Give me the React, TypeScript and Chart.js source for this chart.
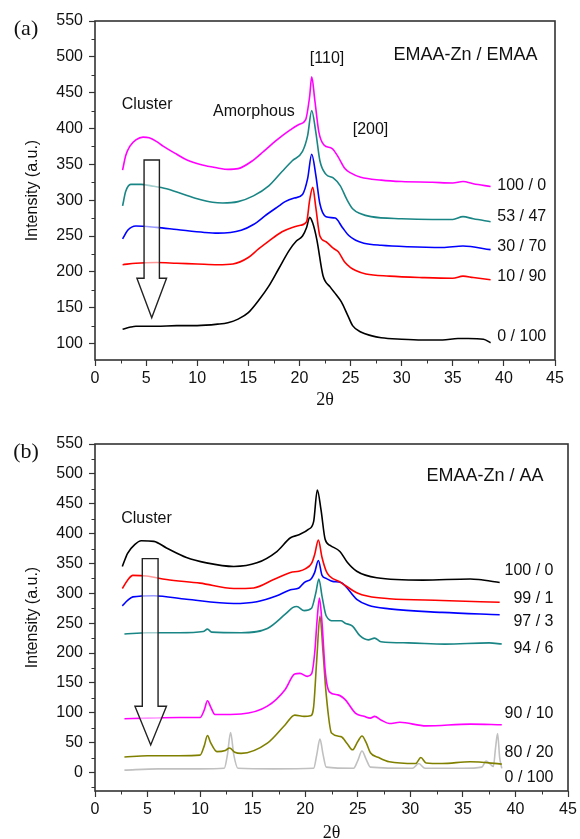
import React, { useEffect, useRef } from 'react';
import { Chart, registerables } from 'chart.js';

Chart.register(...registerables);

// ---------- shared ticks ----------
const X_TICKS = [0, 5, 10, 15, 20, 25, 30, 35, 40, 45];
const X_MINOR = [2.5, 7.5, 12.5, 17.5, 22.5, 27.5, 32.5, 37.5, 42.5];
const Y_TICKS_A = [100, 150, 200, 250, 300, 350, 400, 450, 500, 550];
const Y_MINOR_A = [125, 175, 225, 275, 325, 375, 425, 475, 525];
const Y_TICKS_B = [0, 50, 100, 150, 200, 250, 300, 350, 400, 450, 500, 550];
const Y_MINOR_B = [-25, 25, 75, 125, 175, 225, 275, 325, 375, 425, 475, 525];

// ---------- panel (a): EMAA-Zn / EMAA ----------
const A_LABELS = ['100 / 0', '53 / 47', '30 / 70', '10 / 90', '0 / 100'];
const A_COLORS = ['#ff00ff', '#1a8585', '#0000ff', '#ff0000', '#000000'];

const A_X_100_0 = [2.7, 3.0, 3.4, 4, 4.7, 5.3, 6, 6.7, 8, 9, 10.5, 12, 13, 14, 15.5, 16.5, 17.8, 19.1, 20.0, 20.6, 21.0, 21.2, 21.5, 21.9, 22.4, 23.2, 23.8, 24.4, 25, 26, 28, 30, 33, 35, 36, 37, 38.7];
const A_Y_100_0 = [342, 362, 375, 384, 388, 387, 382, 375, 364, 356, 349, 345, 343, 344, 356, 368, 384, 398, 406, 412, 445, 472, 440, 395, 377, 372, 360, 345, 338, 332, 328, 326, 325, 324, 326, 323, 319];

const A_X_53_47 = [2.7, 3.0, 3.5, 4.5, 5.5, 7, 8.5, 10, 11.5, 12.5, 14, 15.5, 17, 18.3, 19.3, 20.3, 20.8, 21.2, 21.6, 22.0, 22.6, 23.3, 24.0, 24.6, 25.2, 26, 27, 30, 33, 35, 36, 37, 38.7];
const A_Y_53_47 = [292, 312, 322, 322, 320, 316, 309, 302, 297, 296, 298, 306, 320, 340, 355, 368, 390, 425, 395, 355, 336, 331, 320, 302, 288, 281, 277, 274, 273, 273, 277, 274, 270];

const A_X_30_70 = [2.7, 3.2, 4, 6, 8, 10.7, 12, 14.3, 15.5, 16.8, 18, 18.6, 19.5, 20.3, 20.8, 21.2, 21.6, 22.0, 22.6, 23.5, 24.2, 24.8, 25.5, 26.3, 28, 30.6, 34, 36, 38.7];
const A_Y_30_70 = [246, 258, 264, 262, 259, 255, 254, 258, 266, 280, 292, 298, 303, 308, 330, 364, 335, 295, 277, 275, 262, 251, 244, 240, 237, 235, 234, 236, 231];

const A_X_10_90 = [2.7, 4, 6, 8, 10, 12, 13.5, 15, 16, 17, 18.3, 19.3, 20.1, 20.7, 21.0, 21.3, 21.6, 22.0, 22.6, 23.3, 23.8, 24.4, 25, 25.5, 26.5, 28.8, 32, 35, 36, 37, 38.7];
const A_Y_10_90 = [210, 212, 213, 212, 211, 210, 211, 220, 232, 243, 256, 262, 265, 270, 300, 318, 290, 250, 242, 233, 228, 214, 206, 202, 197, 194, 192, 191, 194, 192, 189];

const A_X_0_100 = [2.7, 3.5, 4, 5, 6, 8, 10, 12, 13, 14, 15, 16, 17, 18, 19, 19.7, 20.3, 20.7, 21.0, 21.3, 21.7, 22.3, 23.0, 23.6, 24.1, 24.7, 25.2, 26, 27, 28, 30, 32, 34, 35.5, 36.5, 38, 38.7];
const A_Y_0_100 = [120, 123, 124, 124, 124, 125, 125, 127, 129, 134, 143, 160, 180, 205, 230, 243, 250, 262, 276, 268, 245, 195, 179, 168, 158, 140, 125, 116, 111, 108, 106, 105, 105, 107, 107, 106, 101];

// ---------- panel (b): EMAA-Zn / AA ----------
const B_LABELS = ['100 / 0', '99 / 1', '97 / 3', '94 / 6', '90 / 10', '80 / 20', '0 / 100'];
const B_COLORS = ['#000000', '#ff0000', '#0000ff', '#1a8585', '#ff00ff', '#808000', '#c0c0c0'];

const B_X_100_0 = [2.6, 3.1, 3.8, 4.4, 5.6, 6.8, 8.7, 10.6, 13.2, 15.4, 17.3, 18.6, 19.4, 20.3, 20.8, 21.15, 21.5, 21.9, 22.4, 23.3, 24.0, 24.9, 26.8, 31.2, 35.7, 36.5, 38.5];
const B_Y_100_0 = [345, 367, 382, 388, 387, 376, 360, 351, 345, 351, 370, 393, 398, 407, 420, 473, 440, 390, 380, 370, 352, 337, 326, 322, 324, 323, 318];

const B_X_99_1 = [2.6, 3.1, 3.6, 4.9, 6.8, 10, 13.2, 15.1, 17, 18.6, 19.4, 20.0, 20.6, 20.9, 21.25, 21.6, 22.0, 22.3, 23.4, 24.9, 26, 28, 33, 38.5];
const B_Y_99_1 = [308, 322, 330, 329, 323, 317, 308, 309, 323, 335, 337, 341, 350, 365, 389, 360, 337, 329, 318, 301, 295, 291, 288, 285];

const B_X_97_3 = [2.6, 3.1, 3.6, 5.6, 8.7, 13.2, 15.4, 17.3, 18.6, 19.4, 19.9, 20.6, 20.9, 21.25, 21.6, 22.0, 22.6, 23.4, 24.9, 26, 28, 33, 38.5];
const B_Y_97_3 = [279, 288, 294, 296, 290, 283, 286, 296, 306, 309, 318, 325, 335, 355, 330, 325, 320, 318, 290, 280, 274, 268, 264];

const B_X_94_6 = [2.8, 5, 8, 10.3, 10.7, 11.1, 13.9, 16.4, 18.1, 18.8, 19.2, 19.9, 20.6, 21.0, 21.3, 21.6, 22.0, 22.7, 23.4, 23.8, 24.5, 25.2, 26.0, 26.6, 27.2, 29.8, 33.3, 37.5, 38.7];
const B_Y_94_6 = [232, 234, 234, 236, 240, 235, 234, 241, 265, 276, 278, 271, 275, 300, 324, 295, 262, 254, 254, 250, 245, 229, 222, 225, 219, 217, 215, 217, 215];

const B_X_90_10 = [2.8, 5, 8, 10.0, 10.4, 10.7, 11.0, 11.4, 13.9, 16.4, 18.1, 19.0, 19.5, 20.2, 20.6, 20.9, 21.15, 21.35, 21.6, 21.9, 22.3, 23.1, 23.8, 24.8, 25.6, 26.2, 26.6, 27.2, 28, 29, 31.5, 35.7, 38.7];
const B_Y_90_10 = [90, 91, 92, 92, 105, 120, 110, 97, 98, 111, 139, 165, 166, 161, 165, 200, 260, 292, 250, 170, 135, 130, 122, 99, 94, 91, 94, 88, 82, 84, 78, 81, 80];

const B_X_80_20 = [2.8, 5, 8, 10.0, 10.4, 10.7, 11.0, 11.6, 12.4, 12.8, 13.3, 13.9, 16.4, 18.1, 19.0, 19.9, 20.5, 20.8, 21.1, 21.4, 21.7, 22.0, 22.5, 23.4, 24.0, 24.5, 25.0, 25.4, 25.8, 26.2, 27, 28, 30.5, 31.0, 31.5, 33, 35.7, 38.7];
const B_Y_80_20 = [26, 28, 28, 29, 45, 62, 50, 35, 37, 41, 34, 32, 49, 80, 96, 94, 95, 110, 190, 262, 200, 130, 66, 60, 48, 38, 52, 61, 50, 33, 25, 18, 15, 25, 16, 15, 18, 14];

const B_X_0_100 = [2.8, 6, 10, 12.3, 12.6, 12.9, 13.2, 13.6, 17, 20.8, 21.1, 21.4, 21.7, 22.0, 24.6, 25.0, 25.4, 25.8, 26.2, 30.2, 30.8, 31.4, 35, 36.8, 37.2, 37.6, 37.9, 38.1, 38.3, 38.5, 38.7];
const B_Y_0_100 = [4, 6, 6, 7, 30, 67, 30, 7, 6, 7, 30, 56, 30, 9, 7, 20, 36, 22, 9, 7, 15, 7, 7, 9, 19, 14, 10, 40, 65, 25, 7];

// ---------- styling ----------
const SANS = '"Liberation Sans", Arial, sans-serif';
const SERIF = '"Liberation Serif", "Times New Roman", serif';
const AXIS = '#333333';
const TEXT = '#111111';

type Txt = { text: string; x: number; y: number; size: number; family?: string; align?: CanvasTextAlign };
type Arrow = { shaftL: number; shaftR: number; top: number; headY: number; headL: number; headR: number; tipX: number; tipY: number };

const decorPlugin = {
  id: 'decor',
  afterDraw(chart: any, _args: any, opts: any) {
    const { ctx, chartArea: a, scales } = chart;
    const xs = scales.x;
    const ys = scales.y;
    ctx.save();
    // minor ticks
    ctx.strokeStyle = AXIS;
    ctx.lineWidth = 1;
    (opts.minorX || []).forEach((v: number) => {
      const px = Math.round(xs.getPixelForValue(v)) + 0.5;
      ctx.beginPath();
      ctx.moveTo(px, a.bottom);
      ctx.lineTo(px, a.bottom + 3.5);
      ctx.stroke();
    });
    (opts.minorY || []).forEach((v: number) => {
      const py = Math.round(ys.getPixelForValue(v)) + 0.5;
      if (py > a.bottom) return;
      ctx.beginPath();
      ctx.moveTo(a.left - 3.5, py);
      ctx.lineTo(a.left, py);
      ctx.stroke();
    });
    // frame
    ctx.lineWidth = 1.6;
    ctx.strokeRect(a.left, a.top, a.right - a.left, a.bottom - a.top);
    // arrow
    const ar: Arrow | undefined = opts.arrow;
    if (ar) {
      const X = (v: number) => xs.getPixelForValue(v);
      const Y = (v: number) => ys.getPixelForValue(v);
      ctx.beginPath();
      ctx.moveTo(X(ar.shaftL), Y(ar.top));
      ctx.lineTo(X(ar.shaftR), Y(ar.top));
      ctx.lineTo(X(ar.shaftR), Y(ar.headY));
      ctx.lineTo(X(ar.headR), Y(ar.headY));
      ctx.lineTo(X(ar.tipX), Y(ar.tipY));
      ctx.lineTo(X(ar.headL), Y(ar.headY));
      ctx.lineTo(X(ar.shaftL), Y(ar.headY));
      ctx.closePath();
      ctx.fillStyle = 'rgba(255,255,255,0.6)';
      ctx.fill();
      ctx.strokeStyle = '#222';
      ctx.lineWidth = 1.4;
      ctx.stroke();
    }
    // texts
    ctx.fillStyle = TEXT;
    ctx.textBaseline = 'middle';
    (opts.texts || []).forEach((t: Txt) => {
      ctx.font = `${t.size}px ${t.family || SANS}`;
      ctx.textAlign = t.align || 'center';
      ctx.fillText(t.text, xs.getPixelForValue(t.x), ys.getPixelForValue(t.y));
    });
    ctx.restore();
  },
};

function makeDatasets(labels: string[], colors: string[], xsList: number[][], ysList: number[][]) {
  return labels.map((label, i) => ({
    label,
    data: xsList[i].map((x, j) => ({ x, y: ysList[i][j] })),
    borderColor: colors[i],
    backgroundColor: colors[i],
    borderWidth: 1.6,
    pointRadius: 0,
    fill: false,
    cubicInterpolationMode: 'monotone',
  }));
}

type PanelCfg = {
  width: number;
  height: number;
  top: number;
  padTop: number;
  padRight: number;
  xHeight: number;
  yMin: number;
  yTicks: number[];
  yMinor: number[];
  titlePad: number;
  titleLH: number;
  datasets: any[];
  texts: Txt[];
  arrow: Arrow;
};

function Panel({ cfg }: { cfg: PanelCfg }) {
  const ref = useRef<HTMLCanvasElement | null>(null);
  useEffect(() => {
    if (!ref.current) return;
    const chart = new Chart(ref.current, {
      type: 'line',
      data: { datasets: cfg.datasets },
      plugins: [decorPlugin as any],
      options: {
        animation: false,
        responsive: false,
        maintainAspectRatio: false,
        devicePixelRatio: 1,
        layout: { padding: { left: 0, top: cfg.padTop, right: cfg.padRight, bottom: 0 } },
        plugins: {
          legend: { display: false },
          tooltip: { enabled: false },
          decor: { minorX: X_MINOR, minorY: cfg.yMinor, texts: cfg.texts, arrow: cfg.arrow },
        } as any,
        scales: {
          x: {
            type: 'linear',
            min: 0,
            max: 45,
            afterBuildTicks: (s: any) => {
              s.ticks = X_TICKS.map((v) => ({ value: v }));
            },
            afterFit: (s: any) => {
              s.height = cfg.xHeight;
            },
            grid: { display: true, drawOnChartArea: false, drawTicks: true, tickLength: 6, color: AXIS, tickWidth: 1.2 },
            border: { display: false },
            ticks: { autoSkip: false, maxRotation: 0, padding: 3, color: TEXT, font: { family: SANS, size: 16 } },
            title: {
              display: true,
              text: '2θ',
              color: TEXT,
              font: { family: SERIF, size: 18, lineHeight: cfg.titleLH },
              padding: { top: 0, bottom: cfg.titlePad },
            },
          },
          y: {
            type: 'linear',
            min: cfg.yMin,
            max: 550,
            afterBuildTicks: (s: any) => {
              s.ticks = cfg.yTicks.map((v) => ({ value: v }));
            },
            afterFit: (s: any) => {
              s.width = 95;
            },
            grid: { display: true, drawOnChartArea: false, drawTicks: true, tickLength: 6, color: AXIS, tickWidth: 1.2 },
            border: { display: false },
            ticks: { autoSkip: false, padding: 6, color: TEXT, font: { family: SANS, size: 16 } },
            title: {
              display: true,
              text: 'Intensity (a.u.)',
              color: TEXT,
              font: { family: SANS, size: 16, lineHeight: 1.2 },
              padding: { top: 23, bottom: 0 },
            },
          },
        },
      } as any,
    });
    return () => chart.destroy();
  }, [cfg]);
  return (
    <canvas
      ref={ref}
      width={cfg.width}
      height={cfg.height}
      style={{ position: 'absolute', left: 0, top: cfg.top, width: cfg.width, height: cfg.height }}
    />
  );
}

const panelA: PanelCfg = {
  width: 580,
  height: 420,
  top: 0,
  padTop: 21,
  padRight: 25,
  xHeight: 60,
  yMin: 77,
  yTicks: Y_TICKS_A,
  yMinor: Y_MINOR_A,
  titlePad: 9,
  titleLH: 1.2,
  datasets: makeDatasets(
    A_LABELS,
    A_COLORS,
    [A_X_100_0, A_X_53_47, A_X_30_70, A_X_10_90, A_X_0_100],
    [A_Y_100_0, A_Y_53_47, A_Y_30_70, A_Y_10_90, A_Y_0_100]
  ),
  texts: [
    { text: '(a)', x: -6.75, y: 538, size: 22, family: SERIF },
    { text: 'Cluster', x: 5.1, y: 434, size: 16 },
    { text: 'Amorphous', x: 15.55, y: 423, size: 16 },
    { text: '[110]', x: 22.7, y: 497, size: 16 },
    { text: '[200]', x: 26.95, y: 399, size: 16 },
    { text: 'EMAA-Zn / EMAA', x: 36.25, y: 503, size: 18 },
    { text: A_LABELS[0], x: 39.35, y: 320, size: 16, align: 'left' },
    { text: A_LABELS[1], x: 39.35, y: 277, size: 16, align: 'left' },
    { text: A_LABELS[2], x: 39.35, y: 235, size: 16, align: 'left' },
    { text: A_LABELS[3], x: 39.35, y: 193, size: 16, align: 'left' },
    { text: A_LABELS[4], x: 39.35, y: 110, size: 16, align: 'left' },
  ],
  arrow: { shaftL: 4.8, shaftR: 6.3, top: 356, headY: 191, headL: 4.1, headR: 7.0, tipX: 5.55, tipY: 136 },
};

const panelB: PanelCfg = {
  width: 580,
  height: 419,
  top: 420,
  padTop: 24,
  padRight: 12,
  xHeight: 48,
  yMin: -31,
  yTicks: Y_TICKS_B,
  yMinor: Y_MINOR_B,
  titlePad: 0,
  titleLH: 0.6,
  datasets: makeDatasets(
    B_LABELS,
    B_COLORS,
    [B_X_100_0, B_X_99_1, B_X_97_3, B_X_94_6, B_X_90_10, B_X_80_20, B_X_0_100],
    [B_Y_100_0, B_Y_99_1, B_Y_97_3, B_Y_94_6, B_Y_90_10, B_Y_80_20, B_Y_0_100]
  ),
  texts: [
    { text: '(b)', x: -6.56, y: 537, size: 22, family: SERIF },
    { text: 'Cluster', x: 4.9, y: 425, size: 16 },
    { text: 'EMAA-Zn / AA', x: 37.1, y: 496, size: 18 },
    { text: B_LABELS[0], x: 43.62, y: 338, size: 16, align: 'right' },
    { text: B_LABELS[1], x: 43.62, y: 291, size: 16, align: 'right' },
    { text: B_LABELS[2], x: 43.62, y: 252, size: 16, align: 'right' },
    { text: B_LABELS[3], x: 43.62, y: 207, size: 16, align: 'right' },
    { text: B_LABELS[4], x: 43.62, y: 98, size: 16, align: 'right' },
    { text: B_LABELS[5], x: 43.62, y: 34, size: 16, align: 'right' },
    { text: B_LABELS[6], x: 43.62, y: -9, size: 16, align: 'right' },
  ],
  arrow: { shaftL: 4.5, shaftR: 6.0, top: 358, headY: 111, headL: 3.8, headR: 6.8, tipX: 5.3, tipY: 46 },
};

export default function App() {
  return (
    <div style={{ position: 'absolute', left: 0, top: 0, width: 580, height: 839, background: '#fff', overflow: 'hidden' }}>
      <Panel cfg={panelA} />
      <Panel cfg={panelB} />
    </div>
  );
}
